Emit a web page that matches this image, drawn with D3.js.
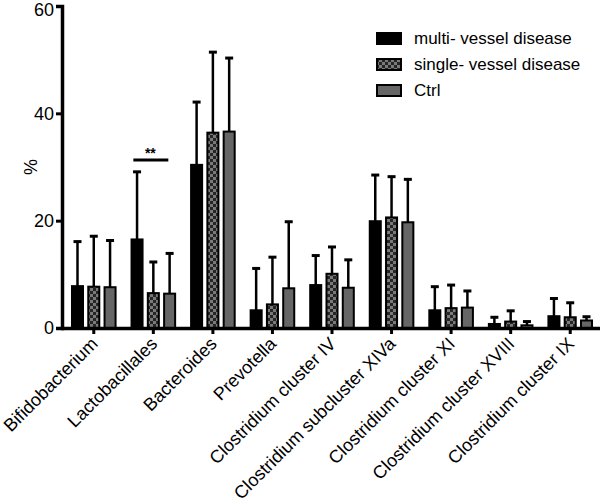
<!DOCTYPE html>
<html><head><meta charset="utf-8">
<script src="https://cdn.jsdelivr.net/npm/d3@7"></script>
<style>body{margin:0;background:#fff}svg{display:block}text{font-family:"Liberation Sans",Arial,sans-serif}</style>
</head><body>
<svg id="c" width="600" height="504"></svg>
<script>
const categories = ["Bifidobacterium","Lactobacillales","Bacteroides","Prevotella","Clostridium cluster IV","Clostridium subcluster XIVa","Clostridium cluster XI","Clostridium cluster XVIII","Clostridium cluster IX"];
const seriesNames = ["multi- vessel disease","single- vessel disease","Ctrl"];
const multiMean = [7.8,16.5,30.4,3.3,8.0,19.9,3.3,0.75,2.2];
const multiErr  = [16.1,29.1,42.1,11.1,13.5,28.5,7.7,2.0,5.5];
const singleMean= [7.7,6.5,36.4,4.4,10.1,20.6,3.7,1.2,2.0];
const singleErr = [17.1,12.3,51.4,13.2,15.1,28.2,8.0,3.2,4.7];
const ctrlMean  = [7.6,6.4,36.6,7.4,7.5,19.7,3.8,0.5,1.4];
const ctrlErr   = [16.3,13.9,50.3,19.8,12.7,27.7,6.9,1.2,2.1];
const yTicks = [0,20,40,60];

const svg = d3.select("#c");
const defs = svg.append("defs");
const pat = defs.append("pattern").attr("id","chk").attr("patternUnits","userSpaceOnUse")
  .attr("width",6).attr("height",6);
pat.append("rect").attr("width",6).attr("height",6).attr("fill","#262626");
pat.append("rect").attr("x",0).attr("y",0).attr("width",3).attr("height",3).attr("fill","#7a7a7a");
pat.append("rect").attr("x",3).attr("y",3).attr("width",3).attr("height",3).attr("fill","#7a7a7a");

const fills = ["#000","url(#chk)","#666"];
const means = [multiMean,singleMean,ctrlMean];
const errs = [multiErr,singleErr,ctrlErr];

const x0 = d3.scaleBand().domain(categories).range([64,600]);
const x1 = d3.scaleBand().domain(seriesNames).range([-22.8,22.8]).paddingInner(0.2);
const y = d3.scaleLinear().domain([0,60]).range([328,6]);

const data = [];
categories.forEach((c,i)=>seriesNames.forEach((s,j)=>data.push({c,s,j,m:means[j][i],e:errs[j][i]})));

const g = svg.append("g");
data.forEach(d=>{
  const cx = x0(d.c)+x0.bandwidth()/2 + x1(d.s)+x1.bandwidth()/2;
  g.append("line").attr("x1",cx).attr("x2",cx).attr("y1",y(d.m)).attr("y2",y(d.e))
    .attr("stroke","#000").attr("stroke-width",2.5);
  g.append("line").attr("x1",cx-4).attr("x2",cx+4).attr("y1",y(d.e)).attr("y2",y(d.e))
    .attr("stroke","#000").attr("stroke-width",3);
});
g.selectAll("rect.bar").data(data).enter().append("rect").attr("class","bar")
  .attr("x",d=>x0(d.c)+x0.bandwidth()/2+x1(d.s)+1)
  .attr("width",x1.bandwidth()-2)
  .attr("y",d=>y(d.m))
  .attr("height",d=>y(0)-y(d.m))
  .attr("fill",d=>fills[d.j]).attr("stroke","#000").attr("stroke-width",2);

const yAxis = d3.axisLeft(y).tickValues(yTicks).tickSize(6).tickPadding(2);
const ya = svg.append("g").attr("transform","translate(62,0)").call(yAxis);
ya.select(".domain").attr("stroke-width",3.5);
ya.selectAll(".tick line").attr("stroke-width",3);
ya.selectAll(".tick text").attr("font-size",18).attr("fill","#000").attr("font-family","Liberation Sans, Arial, sans-serif")
  .filter(d=>d===60).attr("dy","0.5em");

const xAxis = d3.axisBottom(x0).tickSize(6).tickSizeOuter(0).tickPadding(4);
const xa = svg.append("g").attr("transform","translate(0,328)").call(xAxis);
xa.select(".domain").attr("stroke-width",3.5).attr("d","M61,0.5H600");
xa.selectAll(".tick line").attr("stroke-width",3);
xa.selectAll(".tick text").attr("font-size",18).attr("fill","#000")
  .attr("font-family","Liberation Sans, Arial, sans-serif")
  .attr("text-anchor","end").attr("dy","0").attr("y",0)
  .attr("transform","translate(5,17) rotate(-45)");

svg.append("text").attr("transform","translate(37,167) rotate(-90)")
  .attr("text-anchor","middle").attr("font-size",18).text("%");

const lx = x0("Lactobacillales")+x0.bandwidth()/2;
svg.append("line").attr("x1",lx-20).attr("x2",lx+15).attr("y1",160).attr("y2",160)
  .attr("stroke","#000").attr("stroke-width",3);
svg.append("text").attr("x",lx-3).attr("y",158).attr("text-anchor","middle")
  .attr("font-size",14).attr("font-weight","bold").text("**");

const lg = svg.append("g").attr("transform","translate(376,32)");
seriesNames.forEach((s,i)=>{
  lg.append("rect").attr("x",1).attr("y",i*26+1).attr("width",24).attr("height",11)
    .attr("fill",fills[i]).attr("stroke","#000").attr("stroke-width",2);
  lg.append("text").attr("x",38).attr("y",i*26+12).attr("font-size",17).text(s);
});
</script>
</body></html>
